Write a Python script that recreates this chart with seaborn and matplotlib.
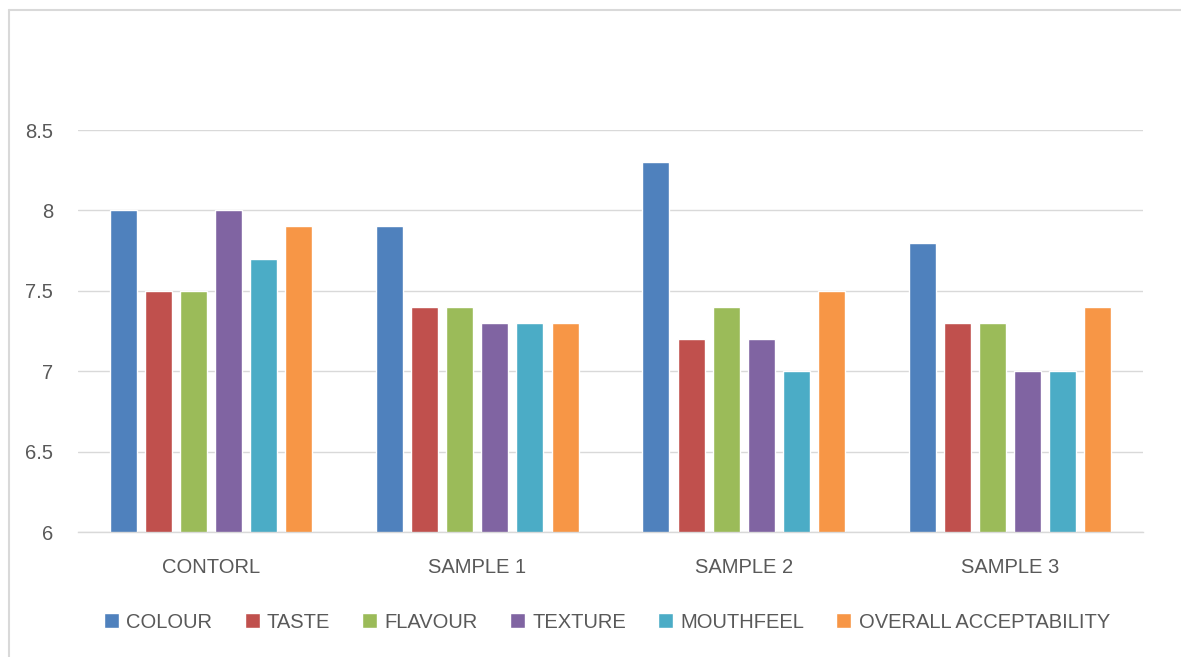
import matplotlib
matplotlib.use("Agg")
import matplotlib.pyplot as plt
import seaborn as sns
import pandas as pd
from matplotlib.lines import Line2D

categories = ["CONTORL", "SAMPLE 1", "SAMPLE 2", "SAMPLE 3"]
attributes = ["COLOUR", "TASTE", "FLAVOUR", "TEXTURE", "MOUTHFEEL", "OVERALL ACCEPTABILITY"]
colour = [8.0, 7.9, 8.3, 7.8]
taste = [7.5, 7.4, 7.2, 7.3]
flavour = [7.5, 7.4, 7.4, 7.3]
texture = [8.0, 7.3, 7.2, 7.0]
mouthfeel = [7.7, 7.3, 7.0, 7.0]
overall = [7.9, 7.3, 7.5, 7.4]
yticks = [6, 6.5, 7, 7.5, 8, 8.5]
ytick_labels = ["6", "6.5", "7", "7.5", "8", "8.5"]

palette = ["#4F81BD", "#C0504D", "#9BBB59", "#8064A2", "#4BACC6", "#F79646"]

series = [colour, taste, flavour, texture, mouthfeel, overall]
rows = []
for attr, vals in zip(attributes, series):
    for cat, v in zip(categories, vals):
        rows.append({"Sample": cat, "Attribute": attr, "Score": v})
df = pd.DataFrame(rows)

sns.set_theme(style="white")
plt.rcParams["font.family"] = ["Liberation Sans", "DejaVu Sans"]
text_color = "#595959"

W, H = 1181, 657
fig = plt.figure(figsize=(W / 100, H / 100), dpi=100)
ax = fig.add_axes([78 / W, 1 - 532 / H, (1143 - 78) / W, (532 - 130) / H])

sns.barplot(data=df, x="Sample", y="Score", hue="Attribute", hue_order=attributes,
            order=categories, palette=palette, width=0.79, gap=0.23,
            saturation=1, ax=ax, legend=True)

ax.set_ylim(6, 8.5)
ax.set_yticks(yticks)
ax.set_yticklabels(ytick_labels)
ax.set_xlim(-0.5, 3.5)
ax.yaxis.grid(True, color="#D9D9D9", linewidth=1)
ax.set_axisbelow(True)
for s in ["top", "right", "left"]:
    ax.spines[s].set_visible(False)
ax.spines["bottom"].set_color("#D9D9D9")
ax.spines["bottom"].set_linewidth(1)
ax.set_xlabel("")
ax.set_ylabel("")
ax.tick_params(axis="both", length=0, labelsize=14.5, colors=text_color)
ax.tick_params(axis="y", pad=18)
ax.tick_params(axis="x", pad=19)

handles, labels = ax.get_legend_handles_labels()
ax.legend_.remove()
leg = fig.legend(handles, labels, loc="center", bbox_to_anchor=(607 / W, 1 - 622 / H),
                 ncol=6, frameon=False, fontsize=14.5, handlelength=0.75, handleheight=0.75,
                 handletextpad=0.35, columnspacing=1.6, labelcolor=text_color)

fig.add_artist(Line2D([9.5 / W, 9.5 / W], [0, 1 - 9.5 / H], transform=fig.transFigure,
                      color="#D9D9D9", linewidth=1.5))
fig.add_artist(Line2D([9.5 / W, 1], [1 - 9.5 / H, 1 - 9.5 / H], transform=fig.transFigure,
                      color="#D9D9D9", linewidth=1.5))

fig.savefig("out.png", dpi=100)
